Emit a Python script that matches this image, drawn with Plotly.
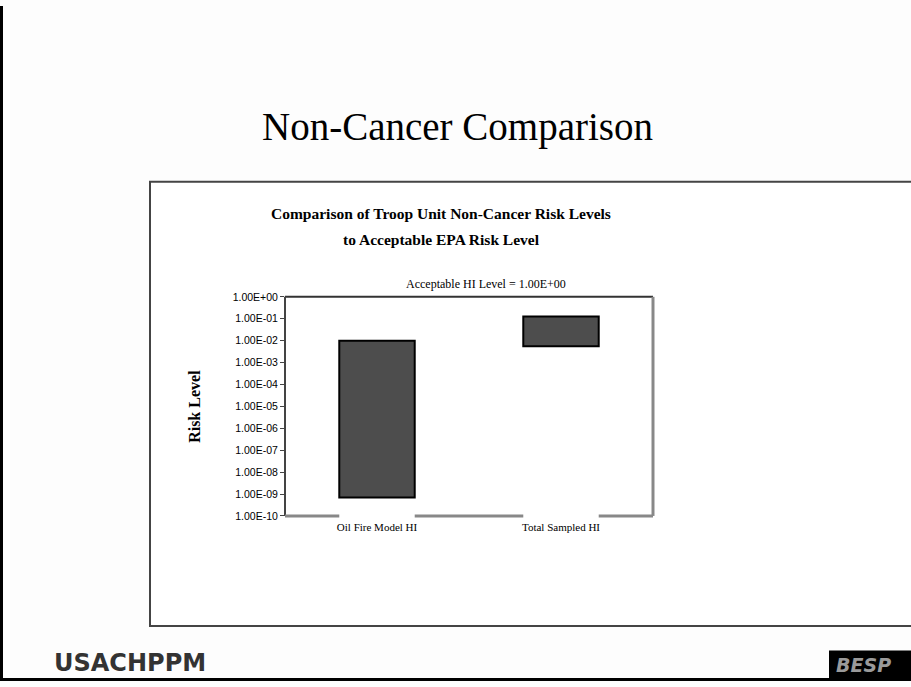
import plotly.graph_objects as go

# ---- data ----
categories = ["Oil Fire Model HI", "Total Sampled HI"]
risk_low = [7.0e-10, 5.5e-3]
risk_high = [1.0e-2, 1.25e-1]
tick_values = [1e0, 1e-1, 1e-2, 1e-3, 1e-4, 1e-5, 1e-6, 1e-7, 1e-8, 1e-9, 1e-10]
tick_labels = ["1.00E+00", "1.00E-01", "1.00E-02", "1.00E-03", "1.00E-04", "1.00E-05",
               "1.00E-06", "1.00E-07", "1.00E-08", "1.00E-09", "1.00E-10"]
acceptable_label = "Acceptable HI Level = 1.00E+00"

W, H = 911, 687
def px(x): return x / W
def py(y): return 1 - y / H

serif = "Liberation Serif, Times New Roman, serif"
sans = "Liberation Sans, Arial, sans-serif"

bar_w = 0.41
fig = go.Figure()
fig.add_trace(go.Bar(
    x=categories,
    y=[h - l for h, l in zip(risk_high, risk_low)],
    base=risk_low,
    width=bar_w,
    marker=dict(color="#4d4d4d", line=dict(color="#000000", width=2)),
    hoverinfo="skip",
))

shapes = []
# slide outer border
shapes.append(dict(type="line", xref="paper", yref="paper", x0=px(1.5), x1=px(1.5), y0=0, y1=1,
                   line=dict(color="#000", width=3), layer="above"))
shapes.append(dict(type="line", xref="paper", yref="paper", x0=0, x1=1, y0=py(685.5), y1=py(685.5),
                   line=dict(color="#000", width=3), layer="above"))
# chart box
shapes.append(dict(type="rect", xref="paper", yref="paper", x0=px(150), x1=1.02, y0=py(631), y1=py(179),
                   fillcolor="white", line=dict(color="#444", width=2), layer="below"))
# plot frame: top & left dark, right & bottom grey (bottom interrupted under bars)
shapes.append(dict(type="line", xref="x domain", yref="y domain", x0=0, x1=1, y0=1, y1=1,
                   line=dict(color="#333", width=2)))
shapes.append(dict(type="line", xref="x domain", yref="y domain", x0=0, x1=0, y0=0, y1=1,
                   line=dict(color="#444", width=2)))
shapes.append(dict(type="line", xref="x domain", yref="y domain", x0=1, x1=1, y0=0, y1=1,
                   line=dict(color="#888", width=3)))
seg_edges = [-0.5]
for i in range(len(categories)):
    seg_edges += [i - bar_w / 2, i + bar_w / 2]
seg_edges.append(len(categories) - 0.5)
for a, b in zip(seg_edges[0::2], seg_edges[1::2]):
    shapes.append(dict(type="line", xref="x", yref="y domain", x0=a, x1=b, y0=0, y1=0,
                       line=dict(color="#888", width=3)))
# BESP logo box
shapes.append(dict(type="rect", xref="paper", yref="paper", x0=px(829), x1=1.01, y0=py(686), y1=py(656),
                   fillcolor="#000", line=dict(width=0), layer="above"))

annotations = [
    dict(text="Non-Cancer Comparison", x=px(457), y=py(123), xref="paper", yref="paper",
         showarrow=False, font=dict(family=serif, size=39, color="#000"), xanchor="center", yanchor="middle"),
    dict(text="<b>Comparison of Troop Unit Non-Cancer Risk Levels</b>", x=px(441), y=py(211),
         xref="paper", yref="paper", showarrow=False,
         font=dict(family=serif, size=15.5, color="#000"), xanchor="center", yanchor="middle"),
    dict(text="<b>to Acceptable EPA Risk Level</b>", x=px(441), y=py(238),
         xref="paper", yref="paper", showarrow=False,
         font=dict(family=serif, size=15.5, color="#000"), xanchor="center", yanchor="middle"),
    dict(text=acceptable_label, x=px(486), y=py(283), xref="paper", yref="paper", showarrow=False,
         font=dict(family=serif, size=12, color="#000"), xanchor="center", yanchor="middle"),
    dict(text="<b>Risk Level</b>", x=px(195), y=py(408), xref="paper", yref="paper", showarrow=False,
         textangle=-90, font=dict(family=serif, size=16, color="#000"), xanchor="center", yanchor="middle"),
    dict(text="<b>USACHPPM</b>", x=px(130), y=py(669), xref="paper", yref="paper", showarrow=False,
         font=dict(family="DejaVu Sans, sans-serif", size=24, color="#333"), xanchor="center", yanchor="middle"),
    dict(text="<b><i>BESP</i></b>", x=px(834), y=py(671), xref="paper", yref="paper", showarrow=False,
         font=dict(family="DejaVu Sans, sans-serif", size=19, color="#9a9a9a"), xanchor="left", yanchor="middle"),
]

fig.update_layout(
    width=W, height=H,
    margin=dict(l=0, r=0, t=0, b=0),
    paper_bgcolor="#fdfdfd",
    plot_bgcolor="white",
    showlegend=False,
    bargap=0,
    xaxis=dict(domain=[px(285), px(653)], range=[-0.5, 1.5], showgrid=False, showline=False,
               ticks="", ticklabelstandoff=3,
               tickfont=dict(family=serif, size=11, color="#000"), fixedrange=True),
    yaxis=dict(domain=[py(519), py(296)], type="log", range=[-10, 0], showgrid=False, showline=False,
               tickvals=tick_values, ticktext=tick_labels, ticks="outside", ticklen=4,
               tickcolor="#444", tickwidth=1, zeroline=False,
               tickfont=dict(family=sans, size=10.5, color="#000"), fixedrange=True),
    shapes=shapes,
    annotations=annotations,
)

post = (
    "document.documentElement.style.margin='0';"
    "document.body.style.margin='0';"
    "document.body.style.overflow='hidden';"
    "var g=document.getElementById('{plot_id}');"
    "g.style.position='fixed';g.style.left='0px';g.style.top='0px';"
)
fig.write_html("out.html", config={"displayModeBar": False, "staticPlot": True}, post_script=post)
